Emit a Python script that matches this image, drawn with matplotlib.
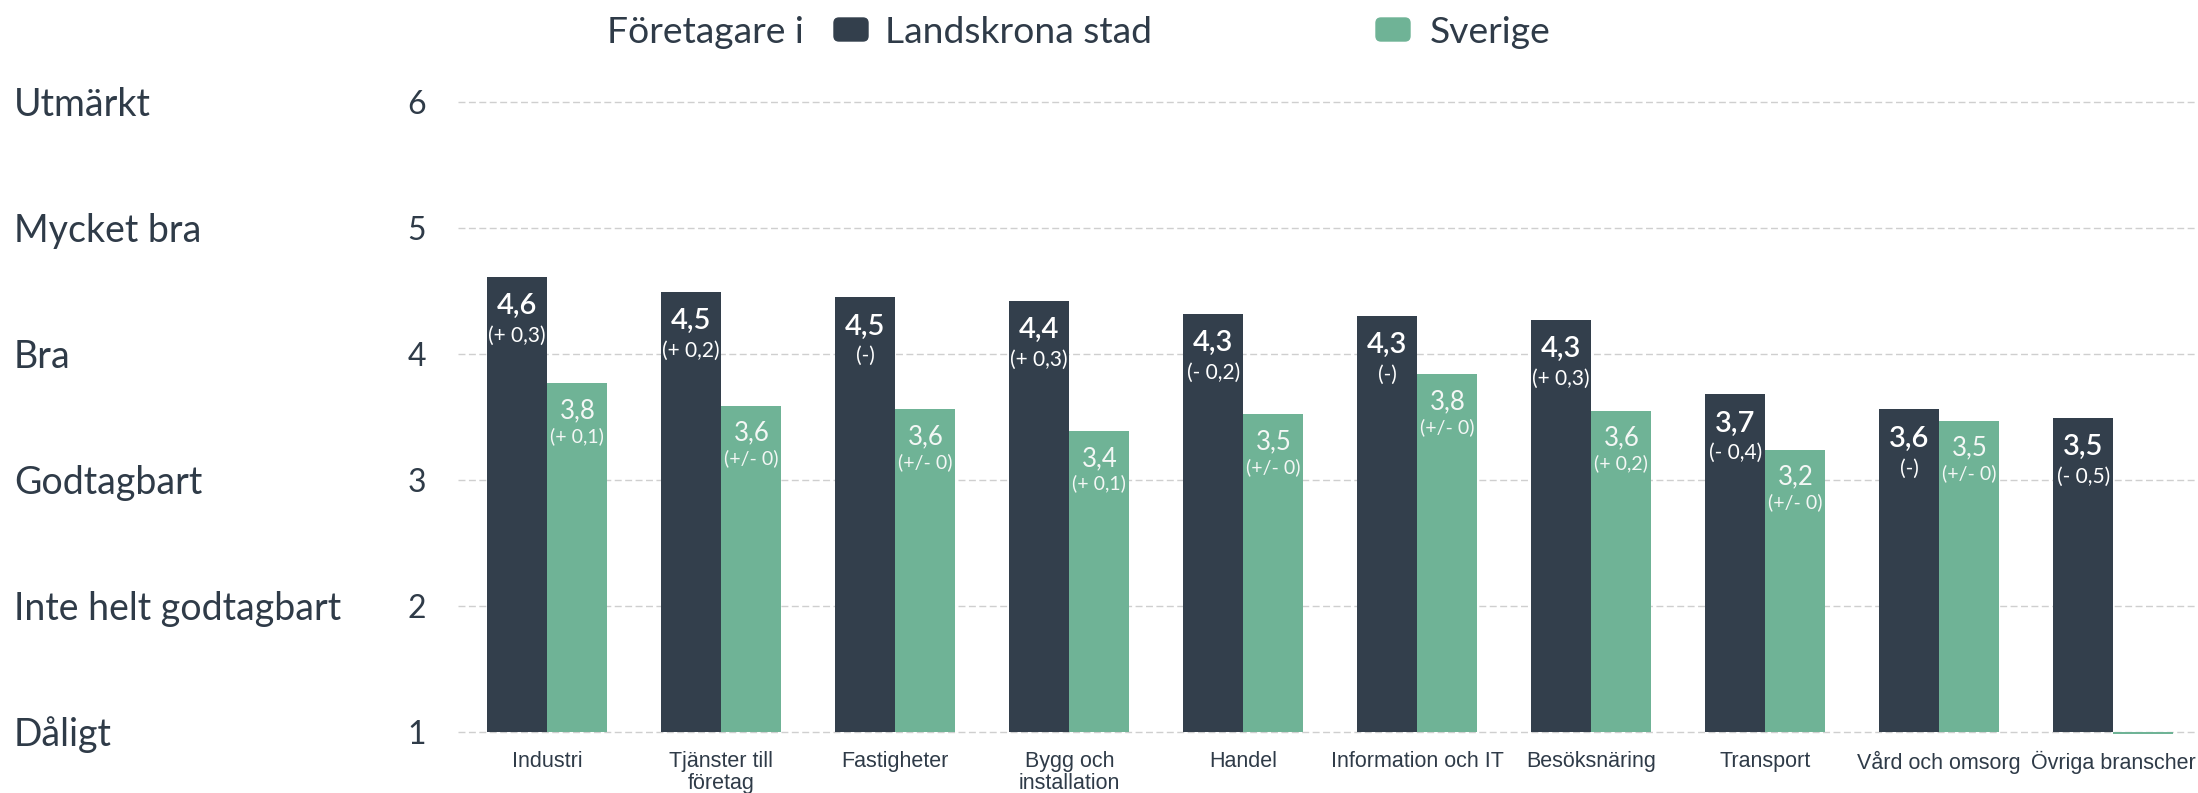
import matplotlib
matplotlib.use("Agg")
import numpy as np
from matplotlib import pyplot as plt
from matplotlib.patches import FancyBboxPatch
from matplotlib.transforms import IdentityTransform

# data
branscher = ["Industri", "Tjänster till\nföretag", "Fastigheter", "Bygg och\ninstallation",
             "Handel", "Information och IT", "Besöksnäring", "Transport",
             "Vård och omsorg", "Övriga branscher"]
landskrona = [4.61, 4.49, 4.45, 4.42, 4.32, 4.30, 4.27, 3.68, 3.56, 3.49]
sverige = [3.77, 3.59, 3.56, 3.39, 3.52, 3.84, 3.55, 3.24, 3.47, 0.985]
landskrona_txt = ["4,6", "4,5", "4,5", "4,4", "4,3", "4,3", "4,3", "3,7", "3,6", "3,5"]
landskrona_diff = ["(+ 0,3)", "(+ 0,2)", "(-)", "(+ 0,3)", "(- 0,2)", "(-)", "(+ 0,3)",
                   "(- 0,4)", "(-)", "(- 0,5)"]
sverige_txt = ["3,8", "3,6", "3,6", "3,4", "3,5", "3,8", "3,6", "3,2", "3,5", ""]
sverige_diff = ["(+ 0,1)", "(+/- 0)", "(+/- 0)", "(+ 0,1)", "(+/- 0)", "(+/- 0)", "(+ 0,2)",
                "(+/- 0)", "(+/- 0)", ""]
skala = [1, 2, 3, 4, 5, 6]
skala_txt = ["Dåligt", "Inte helt godtagbart", "Godtagbart", "Bra", "Mycket bra", "Utmärkt"]

DARK = "#333f4c"
GREEN = "#6fb396"
TEXT = "#2f3b48"

W, H = 2198, 793
fig = plt.figure(figsize=(W / 100, H / 100), dpi=100)
ax = fig.add_axes([458 / W, 0.06898, 1 - 458 / W, 0.81828])

x = np.arange(len(branscher))
w = 0.346
lk = np.array(landskrona)
sv = np.array(sverige)
ax.bar(x - w / 2, lk - 1, w, bottom=1, color=DARK, zorder=2)
ax.bar(x + w / 2, sv - 1, w, bottom=1, color=GREEN, zorder=2)

for i in range(len(x)):
    ax.annotate(landskrona_txt[i], (x[i] - w / 2, lk[i]), xytext=(0, -21),
                textcoords="offset points", ha="center", va="center",
                fontsize=21, color="white", family="Lato", weight="semibold")
    ax.annotate(landskrona_diff[i], (x[i] - w / 2, lk[i]), xytext=(0, -42.5),
                textcoords="offset points", ha="center", va="center",
                fontsize=15, color="white", family="Lato")
    if sverige_txt[i]:
        ax.annotate(sverige_txt[i], (x[i] + w / 2, sv[i]), xytext=(0, -19.8),
                    textcoords="offset points", ha="center", va="center",
                    fontsize=18.5, color="#f4f7f5", family="Lato")
        ax.annotate(sverige_diff[i], (x[i] + w / 2, sv[i]), xytext=(0, -38),
                    textcoords="offset points", ha="center", va="center",
                    fontsize=14, color="#f4f7f5", family="Lato")

ax.set_xlim(-0.513, 9.487)
ax.set_ylim(0.95, 6.1)
ax.set_yticks(skala)
ax.set_yticklabels([str(s) for s in skala], fontsize=23, color=TEXT, family="Lato")
ax.set_xticks(x)
ax.set_xticklabels(branscher, fontsize=15.5, color=TEXT, family="Liberation Sans",
                   linespacing=1.12)
ax.tick_params(axis="y", length=0, pad=23)
ax.tick_params(axis="x", length=0, pad=8.8)
for s in ax.spines.values():
    s.set_visible(False)
ax.yaxis.grid(True, linestyle=(0, (5, 2.5)), color="#cfcfcf", linewidth=1)
ax.set_axisbelow(True)

for s, t in zip(skala, skala_txt):
    ax.annotate(t, (14 / W, s), xycoords=("figure fraction", "data"),
                xytext=(0, -10), textcoords="offset points", ha="left", va="baseline",
                fontsize=27, color=TEXT, family="Lato", annotation_clip=False)

# legend
fig.text(606.7 / W, 1 - 42.7 / H, "Företagare i", fontsize=26.8, color=TEXT,
         family="Lato", va="baseline")
for x0, col, lab, tx in [(834, DARK, "Landskrona stad", 885), (1376, GREEN, "Sverige", 1430)]:
    fig.add_artist(FancyBboxPatch((x0, H - 41), 34, 23,
                                  boxstyle="round,pad=0,rounding_size=5",
                                  transform=IdentityTransform(), color=col))
    fig.text(tx / W, 1 - 42.7 / H, lab, fontsize=26.8, color=TEXT,
             family="Lato", va="baseline")

fig.savefig("out.png", dpi=100)
